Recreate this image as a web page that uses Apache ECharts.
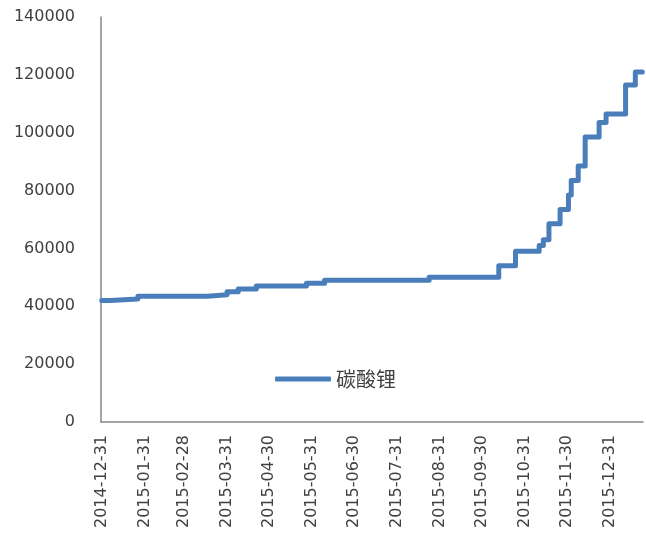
<!DOCTYPE html>
<html>
<head>
<meta charset="utf-8">
<script src="https://cdn.jsdelivr.net/npm/echarts@6/dist/echarts.min.js"></script>
<style>
  html, body { margin: 0; padding: 0; background: #fff; }
  #chart { width: 646px; height: 535px; }
</style>
</head>
<body>
<div id="chart"></div>
<script>
// 价格变动点（日期，价格），阶梯保持到下一个变动点
const priceDates = [
  '2014-12-31', '2015-01-06', '2015-01-26', '2015-03-17', '2015-03-31',
  '2015-04-08', '2015-04-21', '2015-05-27', '2015-06-09', '2015-08-23',
  '2015-10-12', '2015-10-24', '2015-11-10', '2015-11-13', '2015-11-17',
  '2015-11-25', '2015-12-01', '2015-12-03', '2015-12-08', '2015-12-13',
  '2015-12-23', '2015-12-28', '2016-01-11', '2016-01-18', '2016-01-23'
]
const priceValues = [
  42000, 42500, 43500, 44000, 45000,
  46000, 47000, 48000, 49000, 50000,
  54000, 59000, 61000, 63000, 68500,
  73500, 78500, 83500, 88500, 98500,
  103500, 106500, 116500, 121000, 121000
]

// X轴刻度标签（月末）
const xLabels = [
  '2014-12-31', '2015-01-31', '2015-02-28', '2015-03-31', '2015-04-30',
  '2015-05-31', '2015-06-30', '2015-07-31', '2015-08-31', '2015-09-30',
  '2015-10-31', '2015-11-30', '2015-12-31'
]

const lineColor = '#4a7ebb'
const axisColor = '#868686'
const textColor = '#404040'
const halfDay = 12 * 3600 * 1000

function toTime(s) {
  return echarts.time.parse(s).getTime()
}

const chart = echarts.init(document.getElementById('chart'), null, { renderer: 'canvas' })

const seriesData = priceDates.map((d, i) => [toTime(d), priceValues[i]])

const option = {
  animation: false,
  backgroundColor: '#fff',
  textStyle: { fontFamily: 'DejaVu Sans' },
  grid: {
    left: 101,
    right: 3,
    top: 17,
    bottom: 113,
    containLabel: false,
    outerBoundsMode: 'none'
  },
  legend: {
    left: 270,
    top: 364,
    itemWidth: 56,
    itemHeight: 5,
    icon: 'roundRect',
    itemStyle: { color: lineColor },
    textStyle: {
      fontFamily: 'Noto Sans CJK SC',
      fontSize: 20,
      color: textColor
    },
    data: ['碳酸锂']
  },
  xAxis: {
    type: 'value',
    min: toTime(priceDates[0]) - halfDay,
    max: toTime(priceDates[priceDates.length - 1]) + halfDay,
    axisLine: { show: true, lineStyle: { color: axisColor, width: 1.5 } },
    axisTick: { show: false },
    splitLine: { show: false },
    axisLabel: {
      customValues: xLabels.map(toTime),
      rotate: 90,
      margin: 13,
      fontSize: 16,
      fontFamily: 'DejaVu Sans',
      color: textColor,
      hideOverlap: false,
      formatter: function (value) {
        return echarts.time.format(value, '{yyyy}-{MM}-{dd}', false)
      }
    }
  },
  yAxis: {
    type: 'value',
    min: 0,
    max: 140000,
    interval: 20000,
    axisLine: { show: true, lineStyle: { color: axisColor, width: 1.5 } },
    axisTick: { show: false },
    splitLine: { show: false },
    axisLabel: {
      margin: 26,
      fontSize: 16,
      fontFamily: 'DejaVu Sans',
      color: textColor,
      formatter: function (value) {
        return String(value)
      }
    }
  },
  series: [
    {
      name: '碳酸锂',
      type: 'line',
      step: 'end',
      showSymbol: false,
      symbol: 'none',
      data: seriesData,
      itemStyle: { color: lineColor },
      lineStyle: { color: lineColor, width: 5, cap: 'round', join: 'round' }
    }
  ]
}

chart.setOption(option)
</script>
</body>
</html>
